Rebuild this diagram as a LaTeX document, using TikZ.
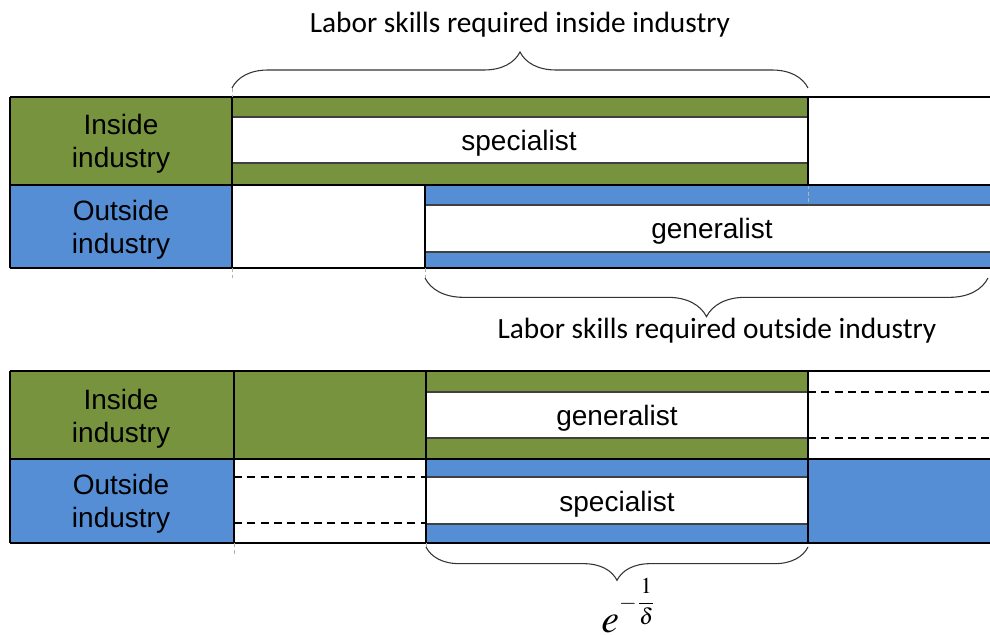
\documentclass[tikz,border=0pt]{standalone}
\usepackage{mathptmx}
\usepackage{graphicx}
\usepackage{fontspec}
\setmainfont{Liberation Sans}
\newfontfamily\calibri{Carlito}
\usetikzlibrary{decorations.pathreplacing}
\definecolor{ingreen}{RGB}{119,147,61}
\definecolor{outblue}{RGB}{85,142,213}

\begin{document}
\begin{tikzpicture}[x=0.75pt,y=-0.75pt]
\tikzstyle{lbl}=[font=\fontsize{21}{25}\selectfont, align=center, inner sep=0pt]
\tikzstyle{skillcap}=[font=\calibri\fontsize{22}{24}\selectfont, inner sep=0pt, anchor=base]
\tikzstyle{edge}=[line width=1.5pt]
\tikzstyle{seam}=[line width=0.8pt, black!75]
\tikzstyle{emptyline}=[line width=1pt, dash pattern=on 6pt off 4pt]
\tikzstyle{guide}=[line width=0.6pt, gray!60, densely dashed]
\tikzstyle{skillbrace}=[decorate, line width=0.8pt, black!80]

\useasboundingbox (0,0) rectangle (990,635);

% first picture: skills before
\fill[ingreen] (10,97) rectangle (808,185);
\fill[white] (232,117) rectangle (808,163);
\fill[outblue] (10,185) rectangle (232,268);
\fill[outblue] (425,185) rectangle (990,268);
\fill[white] (425,205) rectangle (990,252);
\draw[seam] (232,117) -- (808,117) (232,163) -- (808,163);
\draw[seam] (425,205) -- (990,205) (425,252) -- (990,252);
\draw[guide] (808,185) -- (808,205);
\draw[edge] (10,97) -- (990,97) (10,185) -- (990,185) (10,268) -- (990,268);
\draw[edge] (10,97) -- (10,268) (232,97) -- (232,268) (425,185) -- (425,268) (808,97) -- (808,185);

\node[lbl] (in1) at (121,144) {Inside\\industry};
\node[lbl] (out1) at (121,230) {Outside\\industry};
\node[lbl] (spec1) at (519,143) {specialist};
\node[lbl] (gen1) at (712,231) {generalist};

\coordinate (b1l) at (232,88);
\coordinate (b1r) at (808,88);
\coordinate (b2l) at (425,278);
\coordinate (b2r) at (988,278);
\draw[guide] (b1l) -- (232,97) (232,268) -- (232,278) (425,268) -- (b2l);
\draw[skillbrace, decoration={brace, amplitude=27pt}] (b1l) -- (b1r);
\draw[skillbrace, decoration={brace, mirror, amplitude=29pt}] (b2l) -- (b2r);
\node[skillcap] (capin) at (520,33) {Labor skills required inside industry};
\node[skillcap] (capout) at (717,338) {Labor skills required outside industry};

% second picture: skills after
\fill[ingreen] (10,371) rectangle (808,459);
\fill[white] (426,392) rectangle (808,438);
\fill[white] (808,371) rectangle (990,459);
\fill[outblue] (10,459) rectangle (234,543);
\fill[outblue] (426,459) rectangle (990,543);
\fill[white] (426,477) rectangle (808,524);
\draw[seam] (426,392) -- (808,392) (426,438) -- (808,438);
\draw[seam] (426,477) -- (808,477) (426,524) -- (808,524);
\draw[emptyline] (808,392) -- (990,392) (808,438) -- (990,438);
\draw[emptyline] (234,477) -- (426,477) (234,523) -- (426,523);
\draw[edge] (10,371) -- (990,371) (10,459) -- (990,459) (10,543) -- (990,543);
\foreach \x in {10,234,426,808}
  \draw[edge] (\x,371) -- (\x,543);

\node[lbl] (in2) at (121,419) {Inside\\industry};
\node[lbl] (out2) at (121,504) {Outside\\industry};
\node[lbl] (gen2) at (617,418) {generalist};
\node[lbl] (spec2) at (617,504) {specialist};

\coordinate (b3l) at (426,547);
\coordinate (b3r) at (808,547);
\draw[guide] (234,543) -- (234,555) (426,543) -- (b3l);
\draw[skillbrace, decoration={brace, mirror, amplitude=25pt}] (b3l) -- (b3r);
\node[inner sep=0pt, anchor=base west] (decay) at (601,632)
  {\fontsize{30}{30}\selectfont$e$\raisebox{17pt}{\scalebox{1.7}{\normalsize$\displaystyle-\frac{1}{\delta}$}}};
\end{tikzpicture}
\end{document}
